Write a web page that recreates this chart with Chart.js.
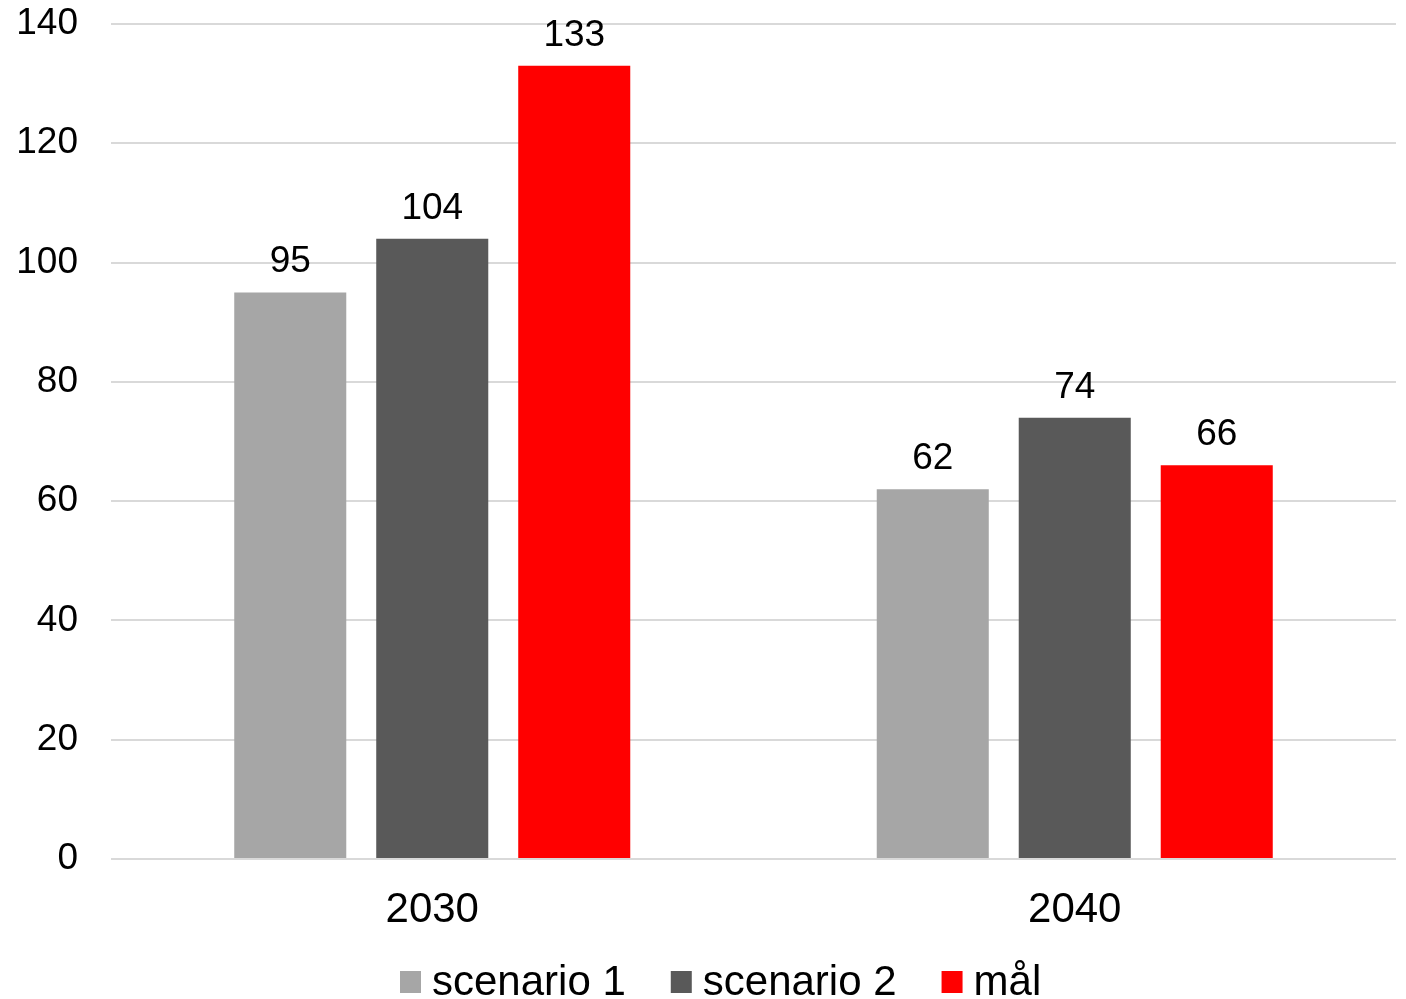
<!DOCTYPE html>
<html>
<head>
<meta charset="utf-8">
<script src="https://cdn.jsdelivr.net/npm/chart.js@4"></script>
<style>
  html, body { margin: 0; padding: 0; background: #ffffff; }
  #wrap { width: 1406px; height: 999px; position: relative; }
</style>
</head>
<body>
<div id="wrap"><canvas id="c" width="1406" height="999"></canvas></div>
<script>
// Categories and series
const years = ['2030', '2040'];
const seriesNames = ['scenario 1', 'scenario 2', 'mål'];
const scenario1 = [95, 62];
const scenario2 = [104, 74];
const target = [133, 66];
const seriesColors = ['#a6a6a6', '#595959', '#ff0000'];
const yTicks = [0, 20, 40, 60, 80, 100, 120, 140];

const FONT = '"Liberation Sans", Arial, sans-serif';

// Value labels above each bar
const valueLabels = {
  id: 'valueLabels',
  afterDatasetsDraw(chart) {
    const ctx = chart.ctx;
    ctx.save();
    ctx.font = '37px ' + FONT;
    ctx.fillStyle = '#000000';
    ctx.textAlign = 'center';
    ctx.textBaseline = 'alphabetic';
    chart.data.datasets.forEach((ds, i) => {
      chart.getDatasetMeta(i).data.forEach((bar, j) => {
        ctx.fillText(String(ds.data[j]), bar.x, bar.y - 20);
      });
    });
    ctx.restore();
  }
};

// Legend row under the axis
const bottomLegend = {
  id: 'bottomLegend',
  afterDraw(chart) {
    const ctx = chart.ctx;
    const box = 21, gapText = 11, gapItem = 45;
    ctx.save();
    ctx.font = '42px ' + FONT;
    const items = chart.data.datasets.map(ds => ({
      label: ds.label, color: ds.backgroundColor, w: ctx.measureText(ds.label).width
    }));
    let total = 0;
    items.forEach((it, i) => { total += box + gapText + it.w + (i < items.length - 1 ? gapItem : 0); });
    let x = Math.round(721 - total / 2);
    const boxTop = 971, baseline = 995;
    ctx.textBaseline = 'alphabetic';
    ctx.textAlign = 'left';
    items.forEach(it => {
      ctx.fillStyle = it.color;
      ctx.fillRect(x, boxTop, box, box + 1);
      x += box + gapText;
      ctx.fillStyle = '#000000';
      ctx.fillText(it.label, x, baseline);
      x += it.w + gapItem;
    });
    ctx.restore();
  }
};

new Chart(document.getElementById('c'), {
  type: 'bar',
  data: {
    labels: years,
    datasets: [
      { label: seriesNames[0], data: scenario1, backgroundColor: seriesColors[0] },
      { label: seriesNames[1], data: scenario2, backgroundColor: seriesColors[1] },
      { label: seriesNames[2], data: target, backgroundColor: seriesColors[2] }
    ]
  },
  options: {
    responsive: false,
    animation: false,
    devicePixelRatio: 1,
    layout: { padding: { top: 24, right: 10, left: 0, bottom: 49 } },
    datasets: { bar: { categoryPercentage: 0.663, barPercentage: 0.789, borderWidth: 0 } },
    plugins: { legend: { display: false }, tooltip: { enabled: false } },
    scales: {
      x: {
        grid: { display: false, drawTicks: false },
        border: { display: false },
        ticks: { color: '#000000', font: { family: FONT, size: 42 }, padding: 26 },
        afterFit(scale) { scale.height = 91; scale.paddingLeft = 0; scale.paddingRight = 0; }
      },
      y: {
        min: 0,
        max: 140,
        afterBuildTicks(scale) { scale.ticks = yTicks.map(v => ({ value: v })); },
        grid: { color: '#d9d9d9', lineWidth: 2, drawTicks: false },
        border: { display: false },
        ticks: { color: '#000000', font: { family: FONT, size: 37 }, padding: 33 },
        afterFit(scale) { scale.width = 111; scale.paddingTop = 0; scale.paddingBottom = 0; }
      }
    }
  },
  plugins: [valueLabels, bottomLegend]
});
</script>
</body>
</html>
